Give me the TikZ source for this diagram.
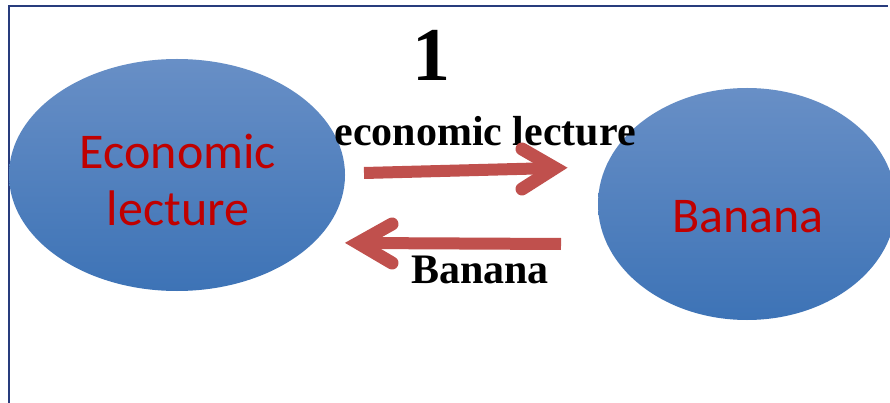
\documentclass[tikz,border=0pt]{standalone}
\usepackage{fontspec}
\usetikzlibrary{shapes.geometric,calc}
\setmainfont{Liberation Serif}
\newfontfamily\calib{Carlito}
\definecolor{arrowred}{RGB}{192,80,77}
\definecolor{textred}{RGB}{192,0,0}
\definecolor{frameblue}{RGB}{40,60,125}
\definecolor{elltop}{RGB}{104,143,198}
\definecolor{ellbot}{RGB}{61,115,182}
\begin{document}
\begin{tikzpicture}[x=1pt,y=-1pt,
  blob/.style={ellipse, draw=none, top color=elltop, bottom color=ellbot, inner sep=0pt},
  redtext/.style={text=textred, font=\calib\fontsize{50}{57}\selectfont, align=center},
  blacklabel/.style={font=\bfseries\fontsize{42}{46}\selectfont, text=black, inner sep=0pt},
  fatshaft/.style={draw=arrowred, line width=12pt, line cap=butt},
  fathead/.style={draw=arrowred, line width=13pt, line cap=round, line join=miter}]
\useasboundingbox (0,0) rectangle (890,403);
\fill[white] (0,0) rectangle (890,403);
\draw[frameblue, line width=2pt] (9,403) -- (9,6) -- (888,6);
\begin{scope}
\clip (0,0) rectangle (890,403);
\node[blob, minimum width=336pt, minimum height=232pt] (e1) at (177,175) {};
\node[blob, minimum width=298pt, minimum height=232pt] (e2) at (747,204) {};
\end{scope}
\node[redtext] (econ) at (178,180) {Economic\\lecture};
\node[redtext] (ban) at (748,217) {Banana};
\node[font=\bfseries\fontsize{76}{80}\selectfont, inner sep=0pt] (one) at (431,55) {1};
\node[blacklabel] (lab1) at (485,131) {economic lecture};
\node[blacklabel] (lab2) at (480,270) {Banana};
% top arrow
\coordinate (a1s) at (364,173);
\coordinate (a1t) at (555,168);
\coordinate (a1u) at (522,149);
\coordinate (a1d) at (522,189);
\draw[fatshaft] (a1s) -- (a1t);
\draw[fathead] (a1u) -- (a1t) -- (a1d);
% bottom arrow
\coordinate (a2s) at (561,244);
\coordinate (a2t) at (358,243);
\coordinate (a2u) at (392,224);
\coordinate (a2d) at (392,263);
\draw[fatshaft] (a2s) -- (a2t);
\draw[fathead] (a2u) -- (a2t) -- (a2d);
\end{tikzpicture}
\end{document}
